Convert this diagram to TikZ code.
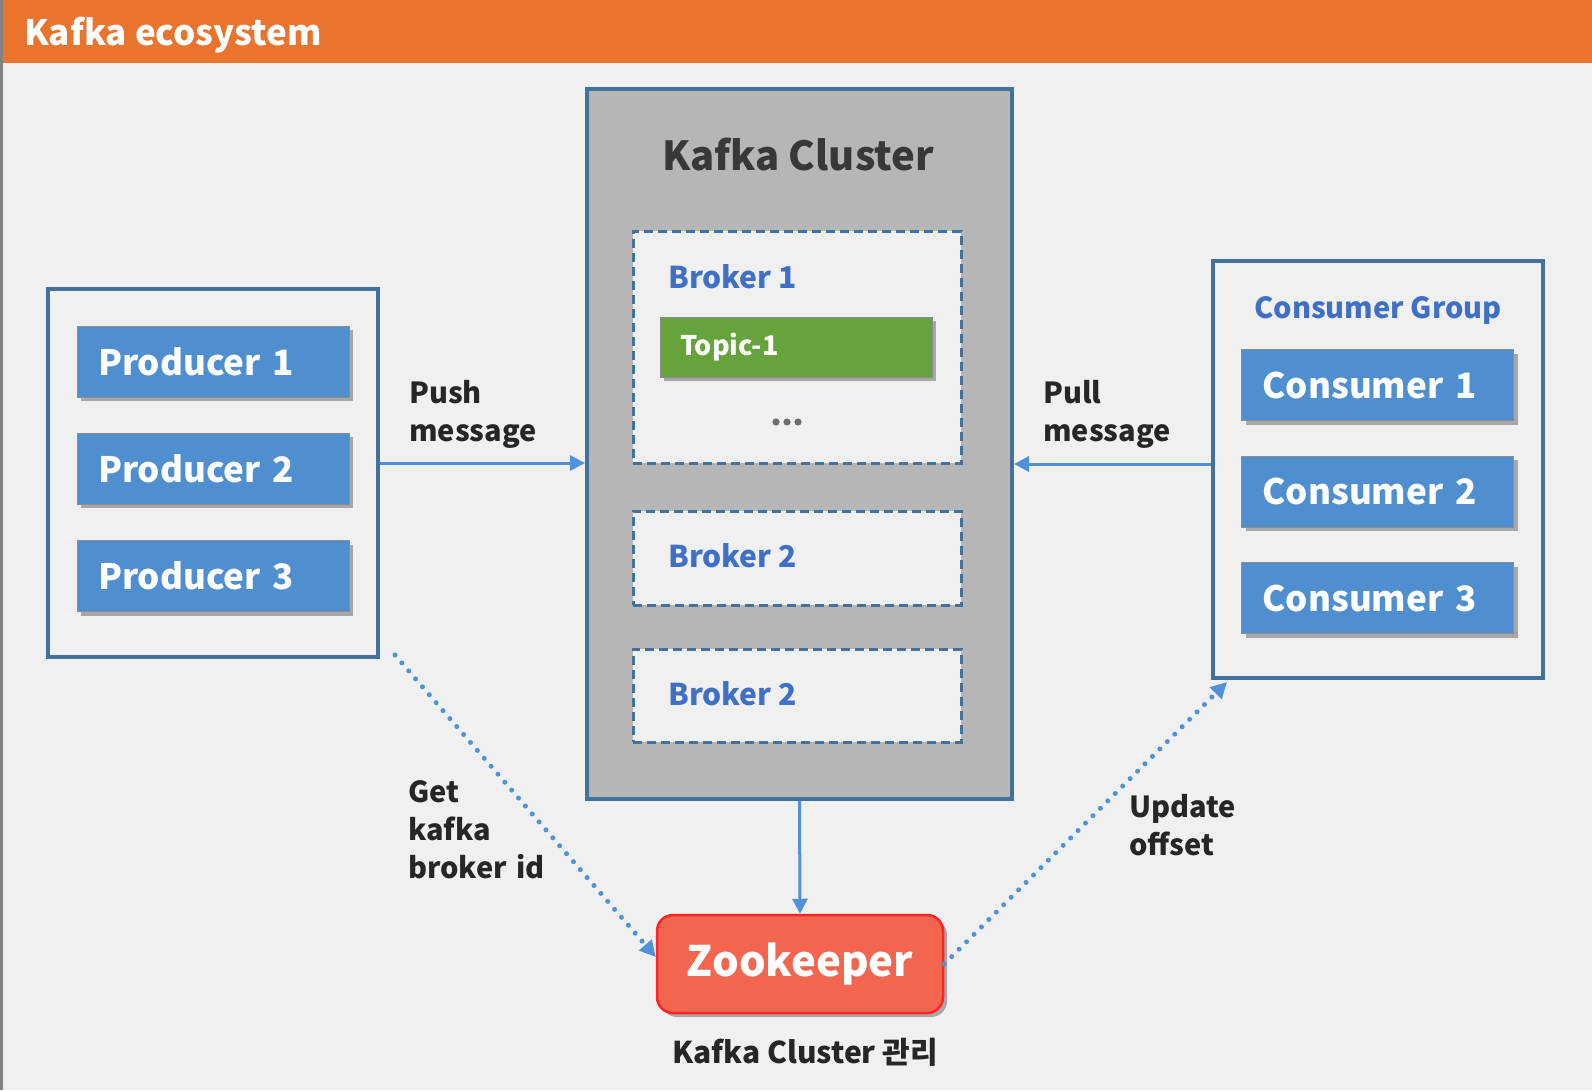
\documentclass[tikz,border=0pt]{standalone}
\usepackage{fontspec}
\setmainfont{Noto Sans CJK KR}
\usetikzlibrary{arrows.meta,shadows}
\definecolor{bgc}{HTML}{F0F0F0}
\definecolor{hdr}{HTML}{EA732E}
\definecolor{frame}{HTML}{41719C}
\definecolor{boxblue}{HTML}{4F8FCF}
\definecolor{arrblue}{HTML}{4F92DA}
\definecolor{clgray}{HTML}{B6B6B6}
\definecolor{brk}{HTML}{4070C6}
\definecolor{topicg}{HTML}{66A33C}
\definecolor{zkfill}{HTML}{F2654F}
\definecolor{zkline}{HTML}{FF2424}
\definecolor{txt}{HTML}{262626}
\definecolor{dots}{HTML}{6E6E6E}
\tikzset{
  fs/.style 2 args={font=\fontsize{#1}{#2}\selectfont\bfseries},
  grp/.style={draw=frame, line width=4pt, fill=bgc},
  brokerbox/.style={draw=frame, line width=3pt, dash pattern=on 9pt off 5pt, fill=bgc, minimum width=328pt, inner sep=0pt},
  shad/.style={drop shadow={shadow xshift=4pt, shadow yshift=-4pt, fill=black, opacity=0.3}},
  member/.style={shad, fill=boxblue, draw=black!45, line width=0.6pt, text=white, minimum height=71pt,
    inner xsep=21pt, inner ysep=0pt, text width=230pt, align=left, fs={35}{40}},
  lbl/.style={text=txt, inner sep=0pt, align=left, text width=160pt, fs={29}{38}},
  arr/.style={draw=arrblue, line width=3pt, -{Triangle[length=15pt,width=15pt]}},
  dotarr/.style={draw=arrblue, line width=5pt, line cap=round, dash pattern=on 0pt off 10.5pt,
    -{Triangle[length=16pt,width=16pt]}},
}
\begin{document}
\begin{tikzpicture}[x=1pt,y=-1pt]
\useasboundingbox (0,0) rectangle (1592,1090);
\fill[bgc] (0,0) rectangle (1592,1090);
% header
\fill[hdr] (0,0) rectangle (1592,63);
\draw[black!50, line width=3pt] (1.5,0) -- (1.5,1090);
\node[anchor=base west, inner sep=0pt, text=white, fs={35}{40}] (title) at (24,45) {Kafka ecosystem};

% producer group
\node[grp, minimum width=330pt, minimum height=368pt] (pg) at (213,473) {};
\node[member] (p1) at (213,361.5) {Producer 1};
\node[member] (p2) at (213,468.5) {Producer 2};
\node[member] (p3) at (213,576) {Producer 3};

% consumer group
\node[grp, minimum width=330pt, minimum height=417pt] (cg) at (1378,469.5) {};
\node[anchor=base, inner sep=0pt, text=brk, fs={29}{32}] (cgl) at (1378,318) {Consumer Group};
\node[member] (c1) at (1377.5,385) {Consumer 1};
\node[member] (c2) at (1377.5,491.5) {Consumer 2};
\node[member] (c3) at (1377.5,598) {Consumer 3};

% kafka cluster
\node[draw=frame, line width=4pt, fill=clgray, minimum width=425pt, minimum height=710pt] (cl) at (799.5,444) {};
\node[anchor=base, inner sep=0pt, text=black!78, fs={40}{44}] (cll) at (798,170) {Kafka Cluster};

\node[brokerbox, minimum height=232pt] (b1) at (797,347) {};
\node[anchor=base west, inner sep=0pt, text=brk, fs={30}{34}] (b1l) at (668,288) {Broker 1};
\node[shad, fill=topicg, draw=black!45, line width=0.6pt, text=white, minimum height=60pt,
  inner xsep=20pt, inner ysep=0pt, text width=232pt, align=left, fs={27}{30}] (t1) at (796,347) {Topic-1};
\node[inner sep=0pt] (dd) at (787,422) {};
\fill[dots] (776,422) circle (3.6pt) (787,422) circle (3.6pt) (798,422) circle (3.6pt);

\node[brokerbox, minimum height=94pt] (b2) at (797,558) {};
\node[anchor=base west, inner sep=0pt, text=brk, fs={30}{34}] (b2l) at (668,567) {Broker 2};
\node[brokerbox, minimum height=93pt] (b3) at (797,695.5) {};
\node[anchor=base west, inner sep=0pt, text=brk, fs={30}{34}] (b3l) at (668,705) {Broker 2};

% zookeeper
\node[shad, fill=zkfill, draw=zkline, line width=2.5pt, rounded corners=16pt, minimum width=286pt,
  minimum height=98pt, text=white, fs={42}{46}] (zk) at (800,964) {Zookeeper};
\node[anchor=base, inner sep=0pt, text=txt, fs={30}{32}] (zkl) at (805,1063) {Kafka Cluster 관리};

% labels
\node[lbl, anchor=base west] (push) at (409,403) {Push\\message};
\node[lbl, anchor=base west] (pull) at (1043,403) {Pull\\message};
\node[lbl, anchor=base west] (get) at (408,802) {Get\\kafka\\broker id};
\node[lbl, anchor=base west] (upd) at (1129,817) {Update\\offset};

% connectors
\draw[arr] ([yshift=10pt]pg.east) -- ([yshift=10pt]pg.east -| cl.west);
\draw[arr] ([yshift=5.5pt]cg.west) -- ([yshift=5.5pt]cg.west -| cl.east);
\draw[arr] (cl.south) -- (zk.north);
\coordinate (gs) at (395,655);
\coordinate (ue) at (1227,682);
\draw[dotarr] (gs) -- ([yshift=7pt]zk.west);
\draw[dotarr] (zk.east) -- (ue);
\end{tikzpicture}
\end{document}
